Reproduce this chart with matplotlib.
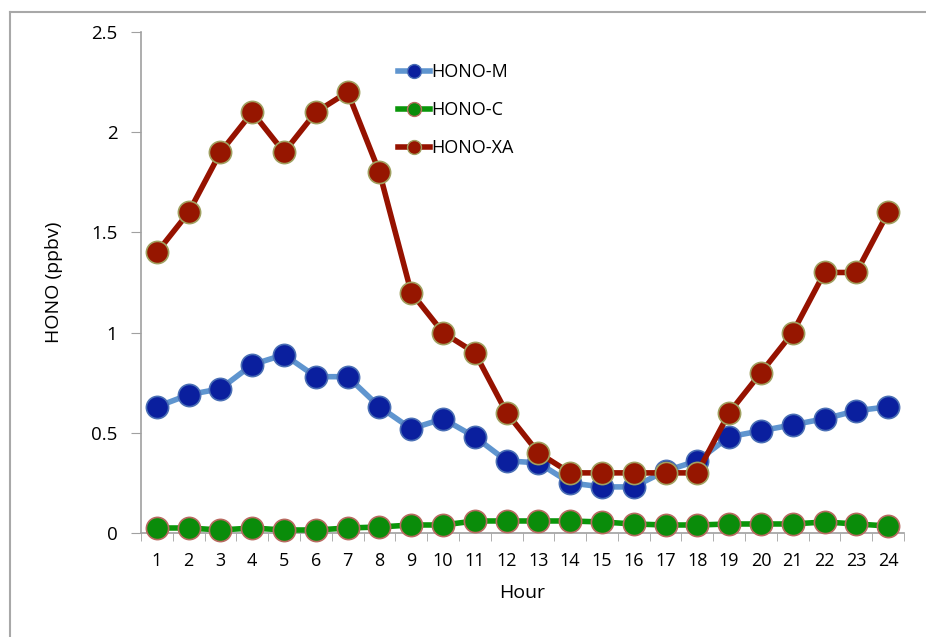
import matplotlib
matplotlib.use("Agg")
import matplotlib.pyplot as plt
from matplotlib.lines import Line2D
import numpy as np

hours = list(range(1, 25))
hono_m = [0.63, 0.69, 0.72, 0.84, 0.89, 0.78, 0.78, 0.63, 0.52, 0.57, 0.48, 0.36,
          0.35, 0.25, 0.23, 0.23, 0.31, 0.36, 0.48, 0.51, 0.54, 0.57, 0.61, 0.63]
hono_c = [0.025, 0.025, 0.015, 0.025, 0.015, 0.015, 0.025, 0.03, 0.04, 0.04, 0.06, 0.06,
          0.06, 0.06, 0.055, 0.045, 0.04, 0.04, 0.045, 0.045, 0.045, 0.055, 0.045, 0.035]
hono_xa = [1.4, 1.6, 1.9, 2.1, 1.9, 2.1, 2.2, 1.8, 1.2, 1.0, 0.9, 0.6,
           0.4, 0.3, 0.3, 0.3, 0.3, 0.3, 0.6, 0.8, 1.0, 1.3, 1.3, 1.6]
series_names = ["HONO-M", "HONO-C", "HONO-XA"]
yticks = [0, 0.5, 1, 1.5, 2, 2.5]
ytick_labels = ["0", "0.5", "1", "1.5", "2", "2.5"]

plt.rcParams['font.family'] = ['Open Sans', 'DejaVu Sans']

fig = plt.figure(figsize=(9.26, 6.37), dpi=100)
ax = fig.add_axes([141/926, 1-533/637, (904-141)/926, (533-32)/637])

styles = [
    dict(color='#5f95cf', mfc='#0a1f9e', mec='#4a6fb5'),
    dict(color='#0a960a', mfc='#0a8c0a', mec='#b86a60'),
    dict(color='#961200', mfc='#961600', mec='#a0a060'),
]
data = [hono_m, hono_c, hono_xa]
for name, vals, st in zip(series_names, data, styles):
    ax.plot(hours, vals, '-', color=st['color'], lw=4, marker='o', markersize=16,
            markerfacecolor=st['mfc'], markeredgecolor=st['mec'], markeredgewidth=1.2,
            label=name, zorder=3, clip_on=False)

ax.set_xlim(0.5, 24.5)
ax.set_ylim(0, 2.5)
ax.set_yticks(yticks)
ax.set_yticklabels(ytick_labels)
ax.set_xticks(hours)
ax.set_xticklabels([str(h) for h in hours])
ax.set_xticks(np.arange(0.5, 25, 1), minor=True)
ax.tick_params(axis='x', which='major', length=0, labelsize=13, pad=14)
ax.tick_params(axis='x', which='minor', length=6, color='#a0a0a0', direction='out')
ax.tick_params(axis='y', length=7, color='#a0a0a0', direction='out', labelsize=13.5, pad=10)
for s in ['top', 'right']:
    ax.spines[s].set_visible(False)
for s in ['left', 'bottom']:
    ax.spines[s].set_color('#a0a0a0')
    ax.spines[s].set_linewidth(1.2)

ax.set_xlabel('Hour', fontsize=14, labelpad=10)
ax.set_ylabel('HONO (ppbv)', fontsize=14, labelpad=20)

handles = [Line2D([0], [0], color=st['color'], lw=4, marker='o', markersize=10,
                  markerfacecolor=st['mfc'], markeredgecolor=st['mec'], markeredgewidth=1.0)
           for st in styles]
leg = ax.legend(handles, series_names, loc='upper left', bbox_to_anchor=(0.315, 0.97),
                frameon=False, fontsize=13, handlelength=1.8, handletextpad=0.05,
                labelspacing=1.1)

# figure frame lines
fig.add_artist(Line2D([10/926, 10/926], [0, 1-12/637], color='#a8a8a8', lw=1.5))
fig.add_artist(Line2D([10/926, 1], [1-12/637, 1-12/637], color='#a8a8a8', lw=1.5))

fig.savefig('out.png', dpi=100)
